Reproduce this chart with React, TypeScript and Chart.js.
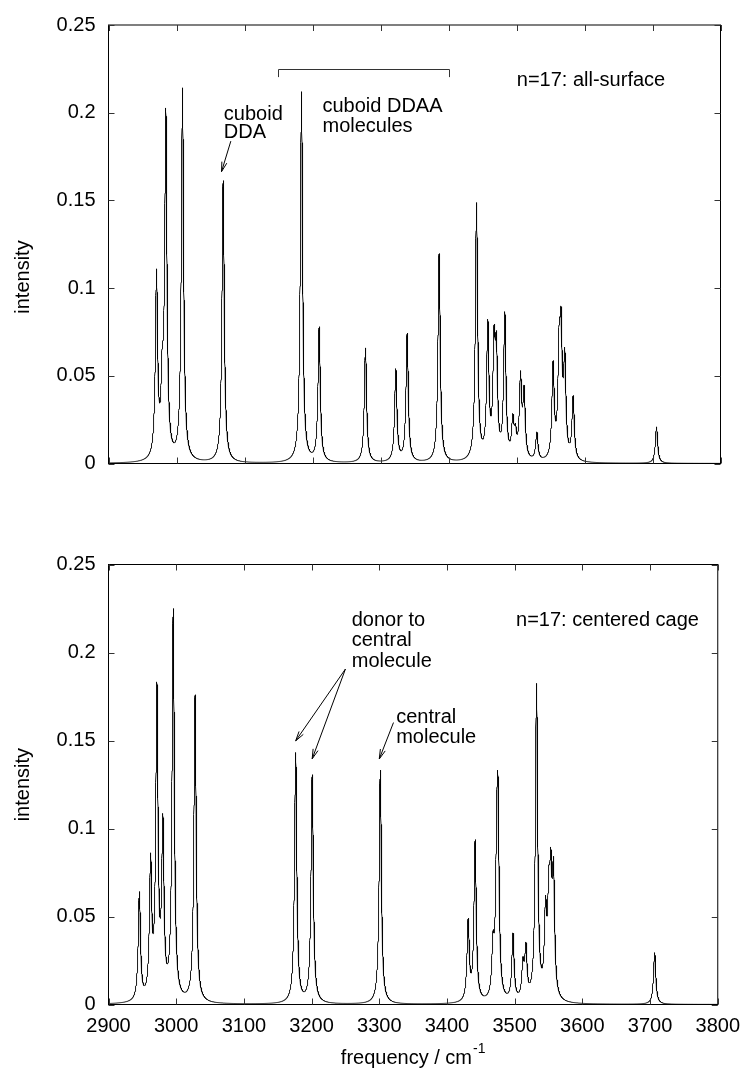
import React, { useEffect, useRef } from "react";
import { Chart, registerables } from "chart.js";

Chart.register(...registerables);

const FONT = "'Liberation Sans', Arial, Helvetica, sans-serif";

// ---- axes ----
const freqMin = 2900;
const freqMax = 3800;
const freqStep = 100;
const xTickValues = [2900, 3000, 3100, 3200, 3300, 3400, 3500, 3600, 3700, 3800];
const intensityMin = 0;
const intensityMax = 0.25;
const intensityStep = 0.05;
const yTickValues = [0, 0.05, 0.1, 0.15, 0.2, 0.25];
const xTitle = "frequency / cm";
const xTitleSup = "-1";
const yTitle = "intensity";

// Lorentzian half width at half maximum (cm-1) and sampling step of the curve
const lineHalfWidth = 2.0;
const sampleStep = 0.1;

// ---- panel 1: n=17 all-surface — peak centres (cm-1) and curve heights at them ----
const surfacePeakFreqs = [
  2970.6, 2979.0, 2984.3, 3008.8, 3068.6, 3183.8, 3209.8, 3277.9, 3322.5, 3339.2,
  3386.2, 3441.2, 3457.8, 3467.0, 3470.5, 3482.8, 3494.5, 3498.5, 3505.9, 3511.2,
  3529.9, 3553.8, 3562.7, 3565.6, 3571.0, 3583.3, 3705.9,
];
const surfacePeakHeights = [
  0.111, 0.068, 0.2027, 0.2142, 0.1613, 0.212, 0.078, 0.0659, 0.0541, 0.0744,
  0.1197, 0.1488, 0.0823, 0.079, 0.075, 0.0866, 0.0285, 0.023, 0.053, 0.0445,
  0.018, 0.0587, 0.0813, 0.0889, 0.0662, 0.0388, 0.0209,
];

// ---- panel 2: n=17 centered cage ----
const cagePeakFreqs = [
  2945.6, 2962.2, 2971.5, 2980.3, 2995.6, 3027.9, 3176.5, 3200.9, 3301.5, 3431.3,
  3441.6, 3468.0, 3473.5, 3475.4, 3497.5, 3512.2, 3516.6, 3532.3, 3545.6, 3550.4,
  3553.4, 3557.4, 3706.8,
];
const cagePeakHeights = [
  0.0642, 0.0862, 0.1833, 0.1086, 0.225, 0.176, 0.1432, 0.1306, 0.1332, 0.0491,
  0.0937, 0.042, 0.1158, 0.1294, 0.0406, 0.027, 0.0355, 0.1825, 0.062, 0.078,
  0.0894, 0.0837, 0.0295,
];

// ---- annotations (data coordinates: frequency, intensity; text y = baseline) ----
const surfaceLabels = [
  { text: "n=17: all-surface", x: 3500.4, y: 0.2155 },
  { text: "cuboid", x: 3069.6, y: 0.1957 },
  { text: "DDA", x: 3069.6, y: 0.1853 },
  { text: "cuboid DDAA", x: 3214.7, y: 0.2004 },
  { text: "molecules", x: 3214.7, y: 0.189 },
];
const surfaceArrows = [{ x1: 3079.9, y1: 0.1838, x2: 3066.2, y2: 0.1664 }];
const surfaceBrackets = [{ x1: 3149, x2: 3400.4, y: 0.225, drop: 0.0047 }];

const cageLabels = [
  { text: "n=17: centered cage", x: 3502, y: 0.215 },
  { text: "donor to", x: 3259.3, y: 0.215 },
  { text: "central", x: 3259.3, y: 0.2037 },
  { text: "molecule", x: 3259.3, y: 0.192 },
  { text: "central", x: 3325, y: 0.1602 },
  { text: "molecule", x: 3325, y: 0.1483 },
];
const cageArrows = [
  { x1: 3250, y1: 0.1906, x2: 3176.5, y2: 0.1498 },
  { x1: 3250, y1: 0.1906, x2: 3200.9, y2: 0.1396 },
  { x1: 3321, y1: 0.1602, x2: 3300, y2: 0.1395 },
];
const cageBrackets: { x1: number; x2: number; y: number; drop: number }[] = [];

// ---- layout ----
const W = 750;
const PLOT_LEFT = 108.5;
const PLOT_RIGHT = 720.5;
const TICK_LEN = 6;

type Label = { text: string; x: number; y: number };
type Arrow = { x1: number; y1: number; x2: number; y2: number };
type Bracket = { x1: number; x2: number; y: number; drop: number };

function lorentz(d: number): number {
  const g2 = lineHalfWidth * lineHalfWidth;
  return g2 / (d * d + g2);
}

// amplitudes so that the summed curve passes through the read heights at the centres
function solveAmplitudes(freqs: number[], heights: number[]): number[] {
  const n = freqs.length;
  const A = freqs.map((fi, i) => [...freqs.map((fj) => lorentz(fi - fj)), heights[i]]);
  for (let c = 0; c < n; c++) {
    let p = c;
    for (let r = c + 1; r < n; r++) if (Math.abs(A[r][c]) > Math.abs(A[p][c])) p = r;
    const tmp = A[c];
    A[c] = A[p];
    A[p] = tmp;
    for (let r = 0; r < n; r++) {
      if (r === c) continue;
      const f = A[r][c] / A[c][c];
      for (let k = c; k <= n; k++) A[r][k] -= f * A[c][k];
    }
  }
  return A.map((row, i) => Math.max(0, row[n] / row[i]));
}

function spectrum(freqs: number[], heights: number[]) {
  const amps = solveAmplitudes(freqs, heights);
  const pts: { x: number; y: number }[] = [];
  const n = Math.round((freqMax - freqMin) / sampleStep);
  for (let i = 0; i <= n; i++) {
    const x = freqMin + i * sampleStep;
    let y = 0;
    for (let k = 0; k < freqs.length; k++) y += amps[k] * lorentz(x - freqs[k]);
    pts.push({ x, y });
  }
  return pts;
}

function drawArrow(ctx: CanvasRenderingContext2D, x1: number, y1: number, x2: number, y2: number) {
  const ang = Math.atan2(y2 - y1, x2 - x1);
  const head = 10;
  const spread = (15 * Math.PI) / 180;
  ctx.beginPath();
  ctx.moveTo(x1, y1);
  ctx.lineTo(x2, y2);
  ctx.moveTo(x2 - head * Math.cos(ang - spread), y2 - head * Math.sin(ang - spread));
  ctx.lineTo(x2, y2);
  ctx.lineTo(x2 - head * Math.cos(ang + spread), y2 - head * Math.sin(ang + spread));
  ctx.stroke();
}

type PanelCfg = {
  freqs: number[];
  heights: number[];
  labels: Label[];
  arrows: Arrow[];
  brackets: Bracket[];
  showXLabels: boolean;
  canvasH: number;
  plotTop: number;
  plotBottom: number;
  yTitleAt: number; // intensity value at which the y title is centred
};

function makeDecor(cfg: PanelCfg) {
  return {
    id: "decor",
    afterDatasetsDraw(chart: any) {
      const { ctx, chartArea: a } = chart;
      const xs = chart.scales.x;
      const ys = chart.scales.y;
      ctx.save();
      // frame
      ctx.strokeStyle = "#000";
      ctx.lineWidth = 1;
      ctx.strokeRect(a.left, a.top, a.right - a.left, a.bottom - a.top);
      // inward ticks on all four sides
      ctx.strokeStyle = "#333";
      ctx.beginPath();
      for (const v of xTickValues) {
        const px = Math.round(xs.getPixelForValue(v)) + 0.5;
        ctx.moveTo(px, a.bottom);
        ctx.lineTo(px, a.bottom - TICK_LEN);
        ctx.moveTo(px, a.top);
        ctx.lineTo(px, a.top + TICK_LEN);
      }
      for (const v of yTickValues) {
        const py = Math.round(ys.getPixelForValue(v)) + 0.5;
        ctx.moveTo(a.left, py);
        ctx.lineTo(a.left + TICK_LEN, py);
        ctx.moveTo(a.right, py);
        ctx.lineTo(a.right - TICK_LEN, py);
      }
      ctx.stroke();

      // brackets
      ctx.strokeStyle = "#333";
      for (const b of cfg.brackets) {
        const bx1 = Math.round(xs.getPixelForValue(b.x1)) + 0.5;
        const bx2 = Math.round(xs.getPixelForValue(b.x2)) + 0.5;
        const by = Math.round(ys.getPixelForValue(b.y)) + 0.5;
        const bd = ys.getPixelForValue(b.y - b.drop);
        ctx.beginPath();
        ctx.moveTo(bx1, bd);
        ctx.lineTo(bx1, by);
        ctx.lineTo(bx2, by);
        ctx.lineTo(bx2, bd);
        ctx.stroke();
      }

      // arrows
      ctx.strokeStyle = "#000";
      for (const ar of cfg.arrows) {
        drawArrow(
          ctx,
          xs.getPixelForValue(ar.x1),
          ys.getPixelForValue(ar.y1),
          xs.getPixelForValue(ar.x2),
          ys.getPixelForValue(ar.y2)
        );
      }

      // labels
      ctx.fillStyle = "#000";
      ctx.font = `20px ${FONT}`;
      ctx.textAlign = "left";
      ctx.textBaseline = "alphabetic";
      for (const l of cfg.labels) {
        ctx.fillText(l.text, xs.getPixelForValue(l.x), ys.getPixelForValue(l.y));
      }

      // y title
      ctx.save();
      ctx.translate(a.left - 85.5, ys.getPixelForValue(cfg.yTitleAt));
      ctx.rotate(-Math.PI / 2);
      ctx.textAlign = "center";
      ctx.textBaseline = "middle";
      ctx.font = `20px ${FONT}`;
      ctx.fillText(yTitle, 0, 0);
      ctx.restore();

      // x title with superscript
      if (cfg.showXLabels) {
        ctx.font = `20px ${FONT}`;
        const mainW = ctx.measureText(xTitle).width;
        ctx.font = `14px ${FONT}`;
        const supW = ctx.measureText(xTitleSup).width;
        const cx = (a.left + a.right) / 2;
        const start = cx - (mainW + supW + 1) / 2;
        const base = a.bottom + 59.5;
        ctx.textAlign = "left";
        ctx.textBaseline = "alphabetic";
        ctx.font = `20px ${FONT}`;
        ctx.fillText(xTitle, start, base);
        ctx.font = `14px ${FONT}`;
        ctx.fillText(xTitleSup, start + mainW + 1, base - 11);
      }
      ctx.restore();
    },
  };
}

function buildPanel(canvas: HTMLCanvasElement, cfg: PanelCfg) {
  const pts = spectrum(cfg.freqs, cfg.heights);
  return new Chart(canvas, {
    type: "line",
    data: {
      datasets: [
        {
          data: pts as any,
          borderColor: "#000",
          borderWidth: 0.9,
          pointRadius: 0,
          fill: false,
          tension: 0,
        },
      ],
    },
    options: {
      animation: false,
      responsive: false,
      parsing: false,
      normalized: true,
      events: [],
      layout: { padding: { left: 0, right: W - PLOT_RIGHT, top: cfg.plotTop, bottom: 0 } },
      plugins: {
        legend: { display: false },
        tooltip: { enabled: false },
        title: { display: false },
      },
      scales: {
        x: {
          type: "linear",
          min: freqMin,
          max: freqMax,
          grid: { display: false, drawTicks: false },
          border: { display: false },
          ticks: {
            display: cfg.showXLabels,
            stepSize: freqStep,
            autoSkip: false,
            maxRotation: 0,
            padding: 10,
            color: "#000",
            font: { family: FONT, size: 20 },
            callback: (v: any) => String(v),
          },
          afterFit: (s: any) => {
            s.height = cfg.canvasH - cfg.plotBottom;
          },
        },
        y: {
          type: "linear",
          min: intensityMin,
          max: intensityMax,
          grid: { display: false, drawTicks: false },
          border: { display: false },
          ticks: {
            stepSize: intensityStep,
            padding: 13,
            color: "#000",
            font: { family: FONT, size: 20 },
            callback: (v: any) => String(+Number(v).toFixed(2)),
          },
          afterFit: (s: any) => {
            s.width = PLOT_LEFT;
          },
        },
      },
    } as any,
    plugins: [makeDecor(cfg)],
  });
}

const TOP_H = 500;
const BOTTOM_H = 575;

export default function App() {
  const topRef = useRef<HTMLCanvasElement>(null);
  const botRef = useRef<HTMLCanvasElement>(null);

  useEffect(() => {
    const c1 = buildPanel(topRef.current!, {
      freqs: surfacePeakFreqs,
      heights: surfacePeakHeights,
      labels: surfaceLabels,
      arrows: surfaceArrows,
      brackets: surfaceBrackets,
      showXLabels: false,
      canvasH: TOP_H,
      plotTop: 22.5,
      plotBottom: 463.5,
      yTitleAt: 0.1063,
    });
    const c2 = buildPanel(botRef.current!, {
      freqs: cagePeakFreqs,
      heights: cagePeakHeights,
      labels: cageLabels,
      arrows: cageArrows,
      brackets: cageBrackets,
      showXLabels: true,
      canvasH: BOTTOM_H,
      plotTop: 64.5,
      plotBottom: 504.5,
      yTitleAt: 0.1249,
    });
    return () => {
      c1.destroy();
      c2.destroy();
    };
  }, []);

  return (
    <div style={{ position: "absolute", left: 0, top: 0, width: W, height: TOP_H + BOTTOM_H, background: "#fff" }}>
      <canvas ref={topRef} width={W} height={TOP_H} style={{ position: "absolute", left: 0, top: 0 }} />
      <canvas ref={botRef} width={W} height={BOTTOM_H} style={{ position: "absolute", left: 0, top: TOP_H }} />
    </div>
  );
}
